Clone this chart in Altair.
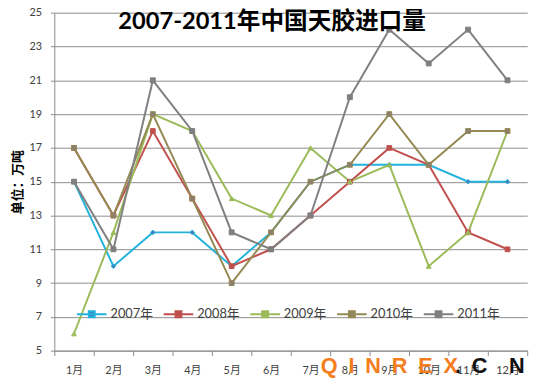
import altair as alt
import pandas as pd

months = ["1月", "2月", "3月", "4月", "5月", "6月", "7月", "8月", "9月", "10月", "11月", "12月"]
years = ["2007年", "2008年", "2009年", "2010年", "2011年"]

v2007 = [15, 10, 12, 12, 10, 12, 15, 16, 16, 16, 15, 15]
v2008 = [17, 13, 18, 14, 10, 11, 13, 15, 17, 16, 12, 11]
v2009 = [6, 12, 19, 18, 14, 13, 17, 15, 16, 10, 12, 18]
v2010 = [17, 13, 19, 14, 9, 12, 15, 16, 19, 16, 18, 18]
v2011 = [15, 11, 21, 18, 12, 11, 13, 20, 24, 22, 24, 21]

y_ticks = [5, 7, 9, 11, 13, 15, 17, 19, 21, 23, 25]

line_colors = ["#22B2DC", "#C0504D", "#9BBB59", "#948A54", "#808080"]
marker_colors = ["#4A7EBB", "#C0504D", "#9BBB59", "#8C7F70", "#7F7F7F"]
marker_shapes = ["diamond", "square", "triangle-up", "square", "square"]
marker_sizes = [40, 64, 45, 22, 25]

title_text = "2007-2011年中国天胶进口量"
y_title = "单位：万吨"
wm_texts = ["Q\u2002I\u2002N\u2002R\u2002E\u2002X", ".\u2002C\u2003N"]
wm_months = ["9月", "12月"]
wm_colors = ["#F47D20", "#111111"]
wm_offsets = [20, 2]

series = {"2007年": v2007, "2008年": v2008, "2009年": v2009, "2010年": v2010, "2011年": v2011}
rows = []
for yr, vals in series.items():
    for m, v in zip(months, vals):
        rows.append({"year": yr, "month": m, "value": v})
df = pd.DataFrame(rows)

wm_df = pd.DataFrame({"text": wm_texts, "month": wm_months, "value": [5, 5],
                      "c": wm_colors, "off": wm_offsets})

LAT = 'Lato, "Noto Sans CJK SC", sans-serif'
CJK = '"Noto Sans CJK SC", sans-serif'

rev_years = years[::-1]

x_enc = alt.X(
    "month:N",
    sort=months,
    scale=alt.Scale(type="band", domain=months, paddingInner=0, paddingOuter=0),
    axis=alt.Axis(title=None, tickBand="extent", grid=False, labelAngle=0,
                  labelFont=LAT, labelFontSize=11, labelColor="#404040",
                  tickSize=5, labelPadding=9, domainColor="#8C8C8C", tickColor="#8C8C8C"),
)
y_enc = alt.Y(
    "value:Q",
    scale=alt.Scale(domain=[5, 25], nice=False, zero=False),
    axis=alt.Axis(values=y_ticks, title=y_title, titleFont=CJK, titleFontSize=13,
                  titleFontWeight="bold", titleColor="#000000", titlePadding=5,
                  labelFont=LAT, labelFontSize=11, labelColor="#404040",
                  tickSize=4, labelPadding=9, grid=True, gridColor="#8C8C8C",
                  domainColor="#8C8C8C", tickColor="#8C8C8C"),
)

legend_kw = dict(
    title=None, orient="none", legendX=22, legendY=290, direction="horizontal",
    symbolType="M-1,0H1M-0.2,-0.2H0.2V0.2H-0.2Z", symbolSize=900, symbolStrokeWidth=2,
    labelFont=LAT, labelFontSize=13, labelColor="#404040", labelOffset=3,
    columnPadding=6,
)

lines = alt.Chart(df).mark_line(strokeWidth=2).encode(
    x=x_enc,
    y=y_enc,
    color=alt.Color("year:N", scale=alt.Scale(domain=rev_years, range=line_colors[::-1]), legend=None),
)

points = alt.Chart(df).mark_point(filled=True, opacity=1, strokeWidth=1).encode(
    x=x_enc,
    y=y_enc,
    fill=alt.Fill("year:N", scale=alt.Scale(domain=years, range=marker_colors), legend=alt.Legend(**legend_kw)),
    stroke=alt.Stroke("year:N", scale=alt.Scale(domain=years, range=line_colors), legend=alt.Legend(**legend_kw)),
    shape=alt.Shape("year:N", scale=alt.Scale(domain=rev_years, range=marker_shapes[::-1]), legend=None),
    size=alt.Size("year:N", scale=alt.Scale(domain=rev_years, range=marker_sizes[::-1]), legend=None),
)

wm = alt.Chart(wm_df).mark_text(font="Liberation Sans", fontWeight="bold", fontSize=22,
                                baseline="middle", dy=16).encode(
    x=x_enc, y=y_enc,
    text="text:N",
    color=alt.Color("c:N", scale=None),
    xOffset=alt.XOffset("off:Q", scale=None),
)

chart = alt.layer(lines, points, wm).properties(
    width=480, height=343,
    autosize=alt.AutoSizeParams(type="none"),
    padding={"left": 47, "top": 2, "right": 15, "bottom": 28},
    title=alt.TitleParams(title_text, font=LAT, fontSize=24, fontWeight="bold", color="#000000",
                          anchor="middle", dx=-19, dy=32),
    background="white",
).configure_view(stroke=None)

chart.save("out.html", embed_options={"renderer": "svg", "actions": False})
